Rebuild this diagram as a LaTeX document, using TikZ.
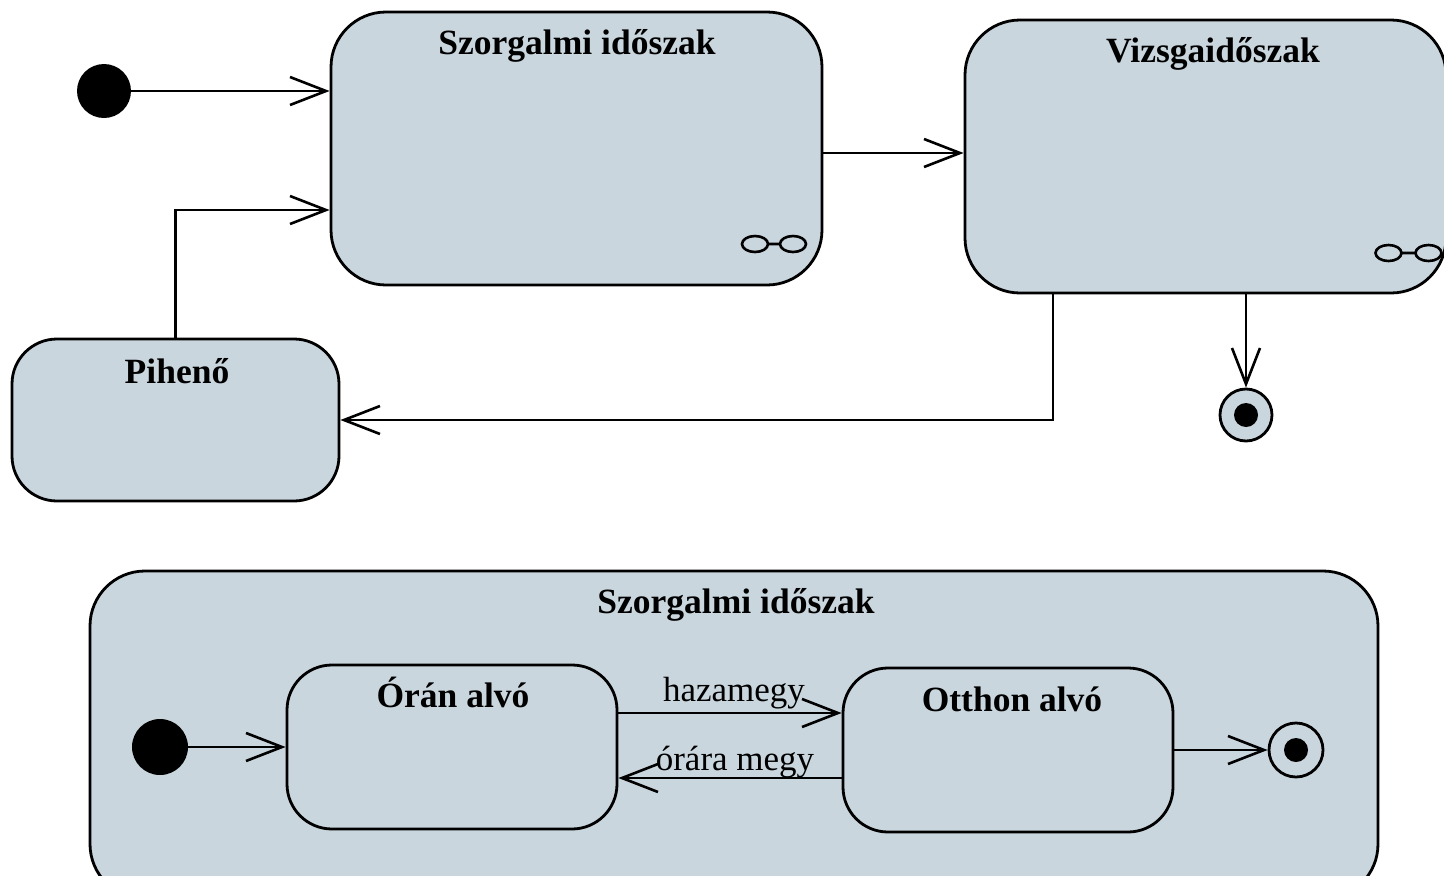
\documentclass[tikz,border=0pt]{standalone}
\usepackage{fontspec}
\setmainfont{Liberation Serif}
\usetikzlibrary{arrows.meta}
\definecolor{statefill}{RGB}{201,214,222}
\tikzset{
  state/.style={draw=black, fill=statefill, line width=2.8pt, inner sep=0pt},
  title/.style={anchor=base, font=\fontsize{35.5}{42}\selectfont\bfseries, inner sep=0pt},
  evlabel/.style={anchor=base, font=\fontsize{35}{42}\selectfont, inner sep=0pt},
  arr/.style={line width=2.6pt, -{Straight Barb[length=36pt, width=28pt, line width=2.6pt]}},
  initial/.style={circle, fill=black, inner sep=0pt, minimum size=54pt},
  final/.style={circle, draw=black, line width=2.8pt, inner sep=0pt, minimum size=52pt},
  compicon/.style={line width=2.6pt}
}
\begin{document}
\begin{tikzpicture}[x=1pt, y=-1pt]
\useasboundingbox (0,0) rectangle (1444,876);

% --- top level state machine ---
\node[initial] (init1) at (104,91) {};
\node[state, rounded corners=55pt, minimum width=491pt, minimum height=273pt] (szorg) at (576.5,148.5) {};
\node[title] (szorgT) at (577,54) {Szorgalmi időszak};
\node[state, rounded corners=55pt, minimum width=481pt, minimum height=273pt] (vizsga) at (1205.5,156.5) {};
\node[title] (vizsgaT) at (1213,62) {Vizsgaidőszak};
\node[state, rounded corners=45pt, minimum width=327pt, minimum height=162pt] (pihe) at (175.5,420) {};
\node[title] (piheT) at (177,383) {Pihenő};
\node[final, fill=statefill] (fin1) at (1246,415) {};
\fill (fin1.center) circle (12);

% composite-state markers
\draw[compicon] (755,244) ellipse (13 and 8) (768,244) -- (780,244) (793,244) ellipse (13 and 8);
\draw[compicon] (1388.5,253) ellipse (13 and 8) (1401.5,253) -- (1415.5,253) (1428.5,253) ellipse (13 and 8);

\draw[arr] (init1) -- (szorg.west |- init1);
\draw[arr] (szorg.east |- 0,153) -- (vizsga.west |- 0,153);
\draw[arr] (vizsga.south -| fin1) -- (fin1);
\draw[arr] (vizsga.south -| 1053,0) |- (pihe.east);
\draw[arr] (pihe.north) |- (szorg.west |- 0,210);

% --- refinement of Szorgalmi időszak ---
\node[state, rounded corners=55pt, minimum width=1288pt, minimum height=328pt] (comp) at (734,735) {};
\node[title] (compT) at (736,613) {Szorgalmi időszak};
\node[initial, minimum size=56pt] (init2) at (160,747) {};
\node[state, rounded corners=45pt, minimum width=330pt, minimum height=164pt] (oran) at (452,747) {};
\node[title] (oranT) at (453,707) {Órán alvó};
\node[state, rounded corners=45pt, minimum width=330pt, minimum height=164pt] (otthon) at (1008,750) {};
\node[title] (otthonT) at (1012,711) {Otthon alvó};
\node[final, minimum size=54pt] (fin2) at (1296,750) {};
\fill (fin2.center) circle (12);

\draw[arr] (init2) -- (oran.west |- init2);
\draw[arr] (oran.east |- 0,713) -- (otthon.west |- 0,713);
\draw[arr] (otthon.west |- 0,778) -- (oran.east |- 0,778);
\draw[arr] (otthon.east |- fin2) -- (fin2);
\node[evlabel] (lhaza) at (734,701) {hazamegy};
\node[evlabel] (lorara) at (735,770) {órára megy};
\end{tikzpicture}
\end{document}
